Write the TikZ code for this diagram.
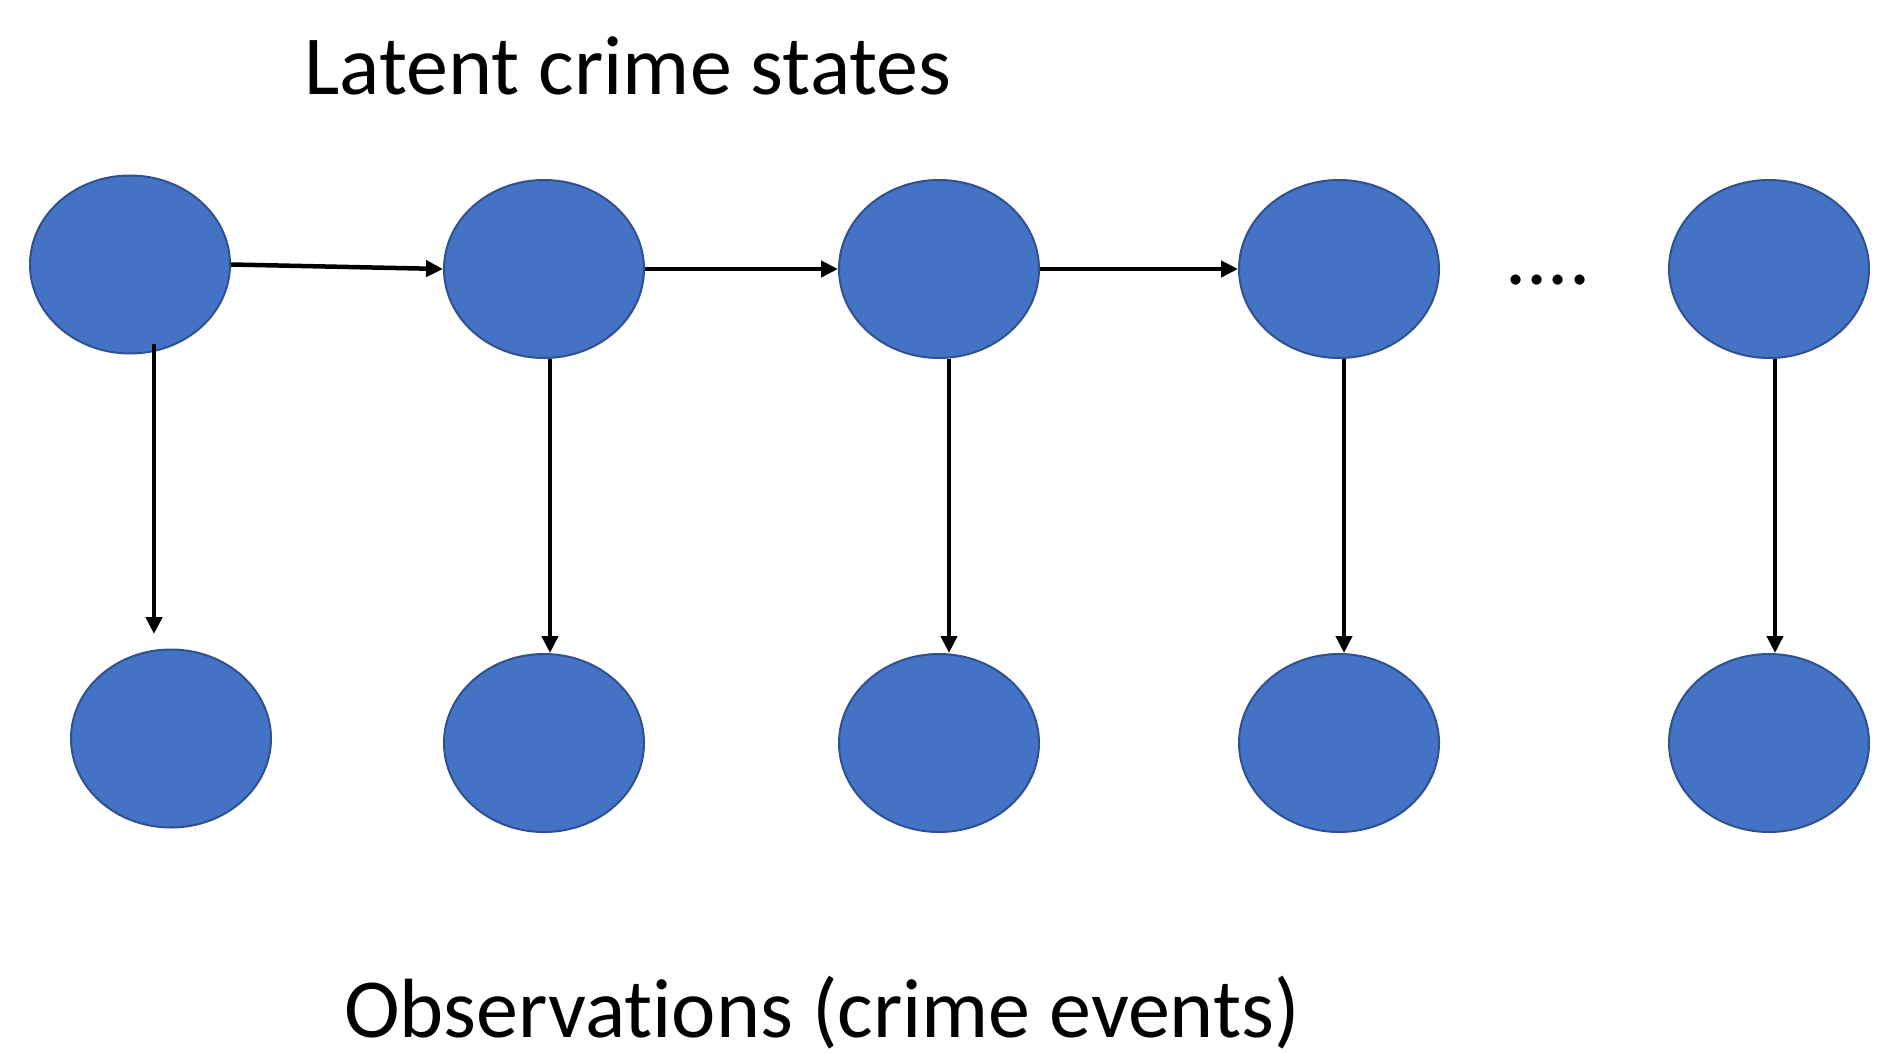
\documentclass[tikz,border=0pt]{standalone}
\usepackage{fontspec}
\setmainfont{Carlito}[RawFeature=-liga]
\usetikzlibrary{shapes.geometric,arrows.meta}
\definecolor{nodefill}{HTML}{4472C4}
\definecolor{nodeline}{HTML}{2F528F}
\begin{document}
\begin{tikzpicture}[x=1pt,y=-1pt,
  state/.style={ellipse,fill=nodefill,draw=nodeline,line width=2pt,minimum width=200pt,minimum height=178pt,inner sep=0pt},
  conn/.style={line width=4.5pt,-{Triangle[length=17pt,width=16pt]}},
  bigtext/.style={font=\fontsize{84}{100}\selectfont,anchor=base,inner sep=0pt}]
\useasboundingbox (0,0) rectangle (1886,1052);
\node[bigtext] (ttl) at (628,94) {Latent crime states};
\node[bigtext] (btl) at (822,1037) {Observations (crime events)};
\node[bigtext] (dots) at (1548,284) {....};
\node[state] (t1) at (130,264.5) {};
\node[state] (t2) at (544,269) {};
\node[state] (t3) at (939,269) {};
\node[state] (t4) at (1339,269) {};
\node[state] (t5) at (1769,269) {};
\node[state] (b1) at (171,738.5) {};
\node[state] (b2) at (544,743) {};
\node[state] (b3) at (939,743) {};
\node[state] (b4) at (1339,743) {};
\node[state] (b5) at (1769,743) {};
\draw[conn] (t1.east) -- (t2.west);
\draw[conn] (t2.east) -- (t3.west);
\draw[conn] (t3.east) -- (t4.west);
\draw[conn] ([xshift=24pt,yshift=11pt]t1.south) -- ([xshift=-17pt,yshift=14.5pt]b1.north);
\draw[conn] ([xshift=6pt]t2.south) -- ([xshift=6pt]b2.north);
\draw[conn] ([xshift=10pt]t3.south) -- ([xshift=10pt]b3.north);
\draw[conn] ([xshift=5pt]t4.south) -- ([xshift=5pt]b4.north);
\draw[conn] ([xshift=6pt]t5.south) -- ([xshift=6pt]b5.north);
\end{tikzpicture}
\end{document}
